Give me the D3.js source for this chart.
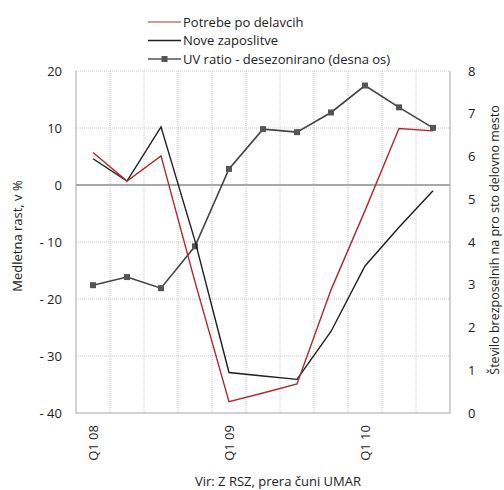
<!DOCTYPE html>
<html>
<head>
<meta charset="utf-8">
<script src="https://cdn.jsdelivr.net/npm/d3@7"></script>
<style>
  html, body { margin: 0; padding: 0; background: #fff; }
  svg { display: block; font-family: "Open Sans", "DejaVu Sans", sans-serif; }
</style>
</head>
<body>
<svg id="chart" width="504" height="490"></svg>
<script>
// Quarters Q1 2008 – Q3 2010
const quarters = ["Q1 08","Q2 08","Q3 08","Q4 08","Q1 09","Q2 09","Q3 09","Q4 09","Q1 10","Q2 10","Q3 10"];
const quarterLabels = ["Q1 08","","","","Q1 09","","","","Q1 10","",""];
// Year-on-year growth, %
const potrebe = [5.7, 0.7, 5.1, -17, -38, -36.5, -34.9, -18.4, -4.5, 9.9, 9.5];
const nove = [4.6, 0.7, 10.2, -9.8, -32.9, -33.5, -34.1, -25.7, -14.2, -7.4, -1.0];
// Unemployed per vacancy, seasonally adjusted (right axis)
const uvRatio = [2.99, 3.18, 2.92, 3.9, 5.71, 6.64, 6.57, 7.03, 7.66, 7.15, 6.67];
const leftTicks = [20, 10, 0, -10, -20, -30, -40];
const rightTicks = [8, 7, 6, 5, 4, 3, 2, 1, 0];

const svg = d3.select("#chart");
const m = { left: 76, right: 450, top: 71, bottom: 413 };

const x = d3.scaleBand().domain(quarters).range([m.left, m.right]);
const yL = d3.scaleLinear().domain([-40, 20]).range([m.bottom, m.top]);
const yR = d3.scaleLinear().domain([0, 8]).range([m.bottom, m.top]);
const cx = q => x(q) + x.bandwidth() / 2;

// Grid
const grid = svg.append("g");
grid.selectAll("line.v").data(quarters.slice(1)).join("line")
  .attr("x1", d => x(d)).attr("x2", d => x(d))
  .attr("y1", m.top).attr("y2", m.bottom)
  .attr("stroke", "#c8c8c8").attr("stroke-width", 1).attr("stroke-dasharray", "1,1");
grid.selectAll("line.h").data(leftTicks.filter(t => t !== 0 && t !== -40)).join("line")
  .attr("x1", m.left).attr("x2", m.right)
  .attr("y1", d => yL(d)).attr("y2", d => yL(d))
  .attr("stroke", "#c8c8c8").attr("stroke-width", 1).attr("stroke-dasharray", "1,1");

// Frame
svg.append("path")
  .attr("d", `M${m.left},${m.top}V${m.bottom}H${m.right}V${m.top}`)
  .attr("fill", "none").attr("stroke", "#c4c4c4").attr("stroke-width", 1.5);
// Zero line
svg.append("line").attr("x1", m.left).attr("x2", m.right)
  .attr("y1", yL(0)).attr("y2", yL(0))
  .attr("stroke", "#a8a8a8").attr("stroke-width", 2.2);

// Axes
const tickFont = 13;
const axL = svg.append("g").attr("transform", `translate(${m.left - 14},0)`)
  .call(d3.axisLeft(yL).tickValues(leftTicks).tickSize(0).tickPadding(0)
    .tickFormat(d => d < 0 ? "- " + Math.abs(d) : d));
axL.select(".domain").remove();
axL.selectAll("text").attr("font-size", tickFont).attr("fill", "#222")
  .attr("font-family", "Open Sans, sans-serif");

const axR = svg.append("g").attr("transform", `translate(${m.right + 18},0)`)
  .call(d3.axisRight(yR).tickValues(rightTicks).tickSize(0).tickPadding(0));
axR.select(".domain").remove();
axR.selectAll("text").attr("font-size", tickFont).attr("fill", "#222")
  .attr("font-family", "Open Sans, sans-serif");

const axB = svg.append("g").attr("transform", `translate(0,${m.bottom})`)
  .call(d3.axisBottom(x).tickSize(0).tickFormat((d, i) => quarterLabels[i]));
axB.select(".domain").remove();
axB.selectAll("text").attr("font-size", tickFont).attr("fill", "#222")
  .attr("font-family", "Open Sans, sans-serif")
  .attr("transform", "rotate(-90)")
  .attr("text-anchor", "end")
  .attr("x", -12).attr("y", 0).attr("dy", "0.35em");

// Axis titles
svg.append("text")
  .attr("transform", `translate(22,${(m.top + m.bottom) / 2 - 6}) rotate(-90)`)
  .attr("text-anchor", "middle").attr("font-size", 13).attr("fill", "#222")
  .text("Medletna rast, v %");
svg.append("text")
  .attr("transform", `translate(499,${(m.top + m.bottom) / 2 - 2}) rotate(-90)`)
  .attr("text-anchor", "middle").attr("font-size", 12.5).attr("fill", "#222")
  .text("Število brezposelnih na pro sto delovno mesto");

// Series
const lineL = d3.line().x((d, i) => cx(quarters[i])).y(d => yL(d));
const lineR = d3.line().x((d, i) => cx(quarters[i])).y(d => yR(d));

svg.append("path").datum(uvRatio).attr("d", lineR)
  .attr("fill", "none").attr("stroke", "#444").attr("stroke-width", 1.6);
svg.selectAll("rect.mk").data(uvRatio).join("rect")
  .attr("x", (d, i) => cx(quarters[i]) - 3).attr("y", d => yR(d) - 3)
  .attr("width", 6).attr("height", 6).attr("fill", "#555");

svg.append("path").datum(nove).attr("d", lineL)
  .attr("fill", "none").attr("stroke", "#1f1f1f").attr("stroke-width", 1.4);
svg.append("path").datum(potrebe).attr("d", lineL)
  .attr("fill", "none").attr("stroke", "#b02a2a").attr("stroke-width", 1.4);

// Legend
const legend = [
  { name: "Potrebe po delavcih", color: "#c07878", marker: false },
  { name: "Nove zaposlitve", color: "#1f1f1f", marker: false },
  { name: "UV ratio - desezonirano (desna os)", color: "#555", marker: true }
];
const lg = svg.append("g").selectAll("g").data(legend).join("g")
  .attr("transform", (d, i) => `translate(148,${22 + i * 18.5})`);
lg.append("line").attr("x1", 0).attr("x2", 33).attr("y1", 0).attr("y2", 0)
  .attr("stroke", d => d.color).attr("stroke-width", 1.5);
lg.filter(d => d.marker).append("rect")
  .attr("x", 13.5).attr("y", -3).attr("width", 6).attr("height", 6).attr("fill", "#555");
lg.append("text").attr("x", 35).attr("dy", "0.35em")
  .attr("font-size", 13).attr("fill", "#222").text(d => d.name);

// Source note
svg.append("text").attr("x", 278).attr("y", 486).attr("text-anchor", "middle")
  .attr("font-size", 13).attr("fill", "#222").text("Vir: Z RSZ, prera čuni UMAR");
</script>
</body>
</html>
